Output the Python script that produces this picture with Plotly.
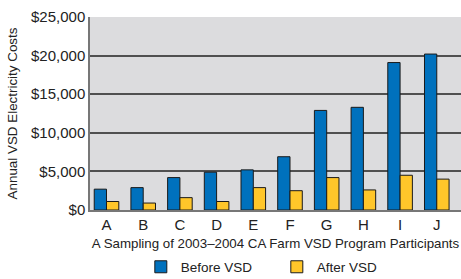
import plotly.graph_objects as go

categories = ["A", "B", "C", "D", "E", "F", "G", "H", "I", "J"]
before_vsd = [2700, 2900, 4200, 4900, 5200, 6900, 12900, 13300, 19100, 20200]
after_vsd = [1100, 900, 1600, 1100, 2900, 2500, 4200, 2600, 4500, 4000]
y_ticks = [0, 5000, 10000, 15000, 20000, 25000]
y_tick_labels = ["$0", "$5,000", "$10,000", "$15,000", "$20,000", "$25,000"]

FONT = "Liberation Sans, Arial, sans-serif"

fig = go.Figure()
fig.add_trace(go.Bar(x=categories, y=before_vsd, name="Before VSD",
                     marker=dict(color="#0071BD", line=dict(color="#1a1a1a", width=1))))
fig.add_trace(go.Bar(x=categories, y=after_vsd, name="After VSD",
                     marker=dict(color="#FFC62A", line=dict(color="#1a1a1a", width=1))))

fig.update_layout(
    width=461, height=279,
    margin=dict(l=90, r=0, t=17, b=69, autoexpand=False),
    paper_bgcolor="white",
    plot_bgcolor="#DCDCDE",
    barmode="group",
    bargap=0.33,
    bargroupgap=0,
    font=dict(family=FONT, color="#222222", size=15),
    showlegend=True,
    legend=dict(orientation="h", x=0.137, xanchor="left",
                yref="container", y=0.043, yanchor="middle",
                font=dict(size=13.5, family=FONT, color="#222222"),
                entrywidth=91, entrywidthmode="pixels",
                bgcolor="rgba(0,0,0,0)"),
)
fig.update_xaxes(
    type="category",
    range=[-0.45, 9.66],
    automargin=False,
    showgrid=False,
    showline=True, linecolor="#777777", linewidth=1.5,
    ticks="", tickfont=dict(size=15),
    title=dict(text="A Sampling of 2003\u20132004 CA Farm VSD Program Participants",
               font=dict(size=13.3), standoff=10),
)
fig.update_yaxes(
    range=[0, 25000],
    automargin=False,
    tickvals=y_ticks, ticktext=y_tick_labels,
    showgrid=True, gridcolor="#505050", gridwidth=1.5,
    showline=True, linecolor="#777777", linewidth=1.5,
    zeroline=False,
    ticks="", tickfont=dict(size=15),
    title=dict(text="Annual VSD Electricity Costs", font=dict(size=13.4), standoff=10),
)

fig.write_html("out.html", config={"displayModeBar": False},
               post_script="document.body.style.margin='0';")
